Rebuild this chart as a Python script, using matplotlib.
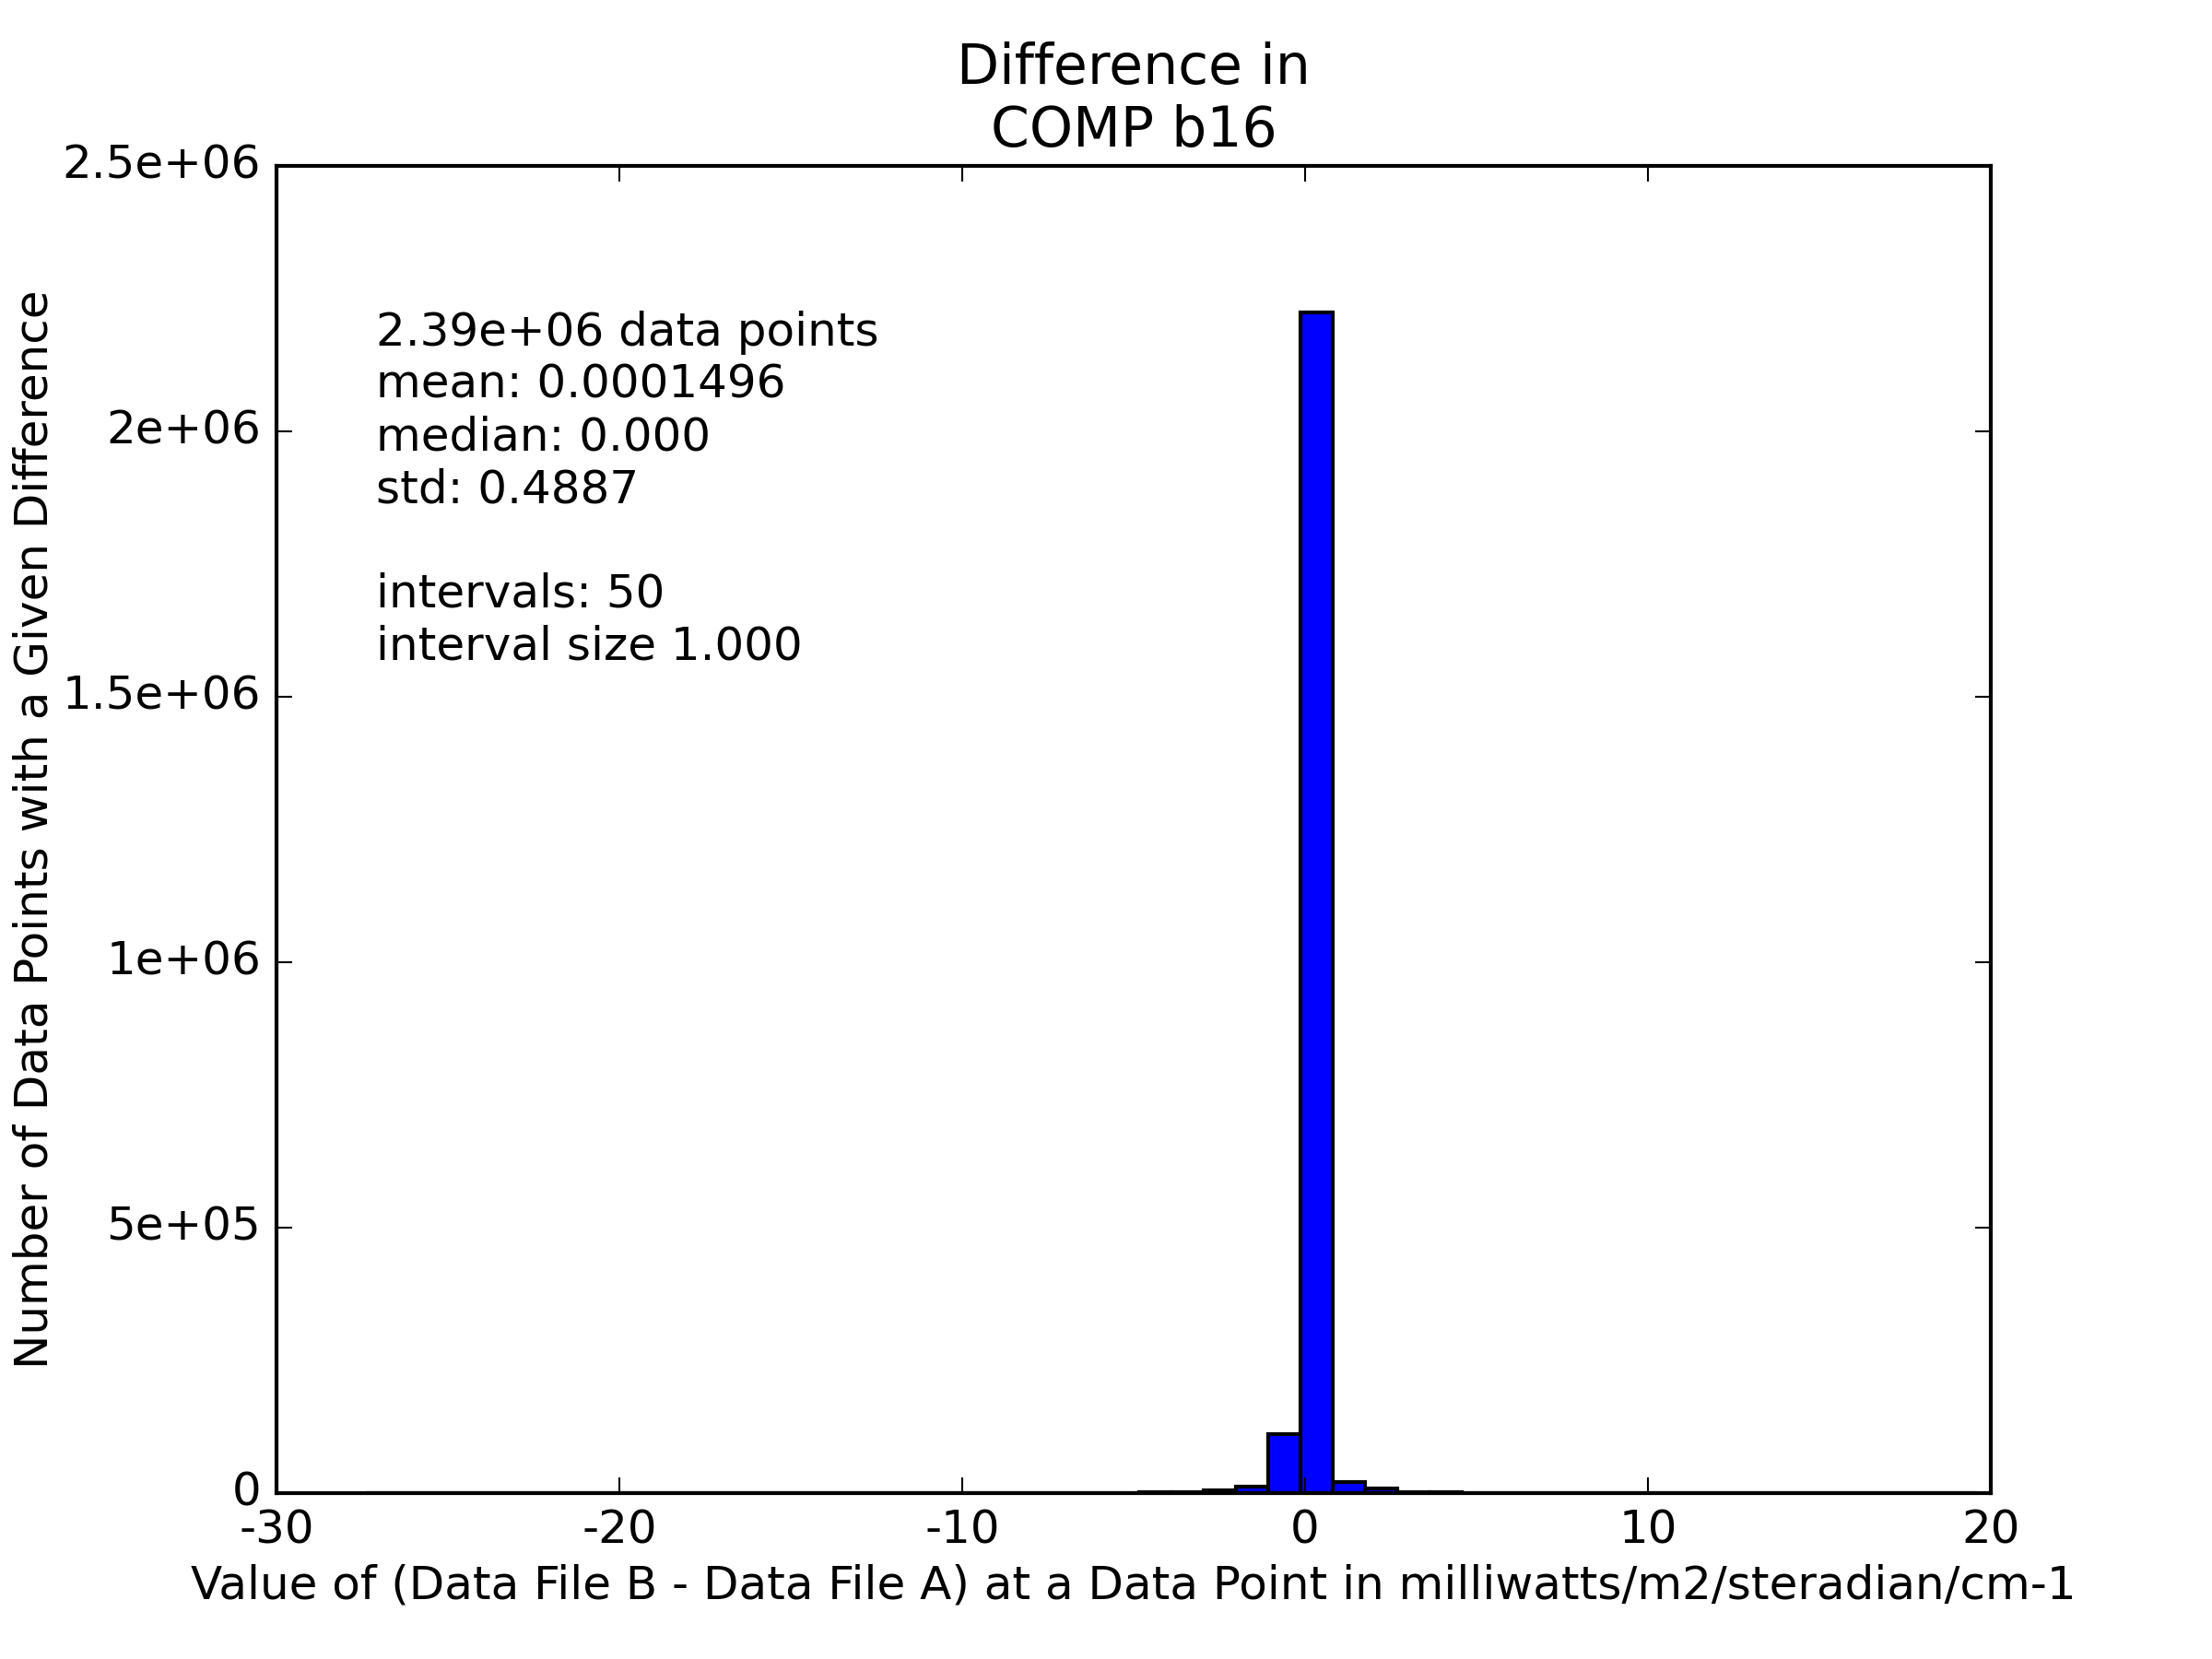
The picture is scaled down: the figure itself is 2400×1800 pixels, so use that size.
import numpy as np
import matplotlib
matplotlib.use("Agg")
import matplotlib.pyplot as plt

plt.style.use("classic")
plt.rcParams["axes.unicode_minus"] = False

# histogram: 50 bins
bin_low = -27.39
bin_high = 19.61
n_bins = 50
# non-zero counts, keyed by bin index (bin 29 starts just below 0)
counts = np.zeros(n_bins)
nonzero_bins = [24, 25, 26, 27, 28, 29, 30, 31, 32, 33, 34]
nonzero_counts = [1500, 2500, 5000, 12000, 111000, 2224000, 20800, 8000, 2500, 1500, 600]
counts[nonzero_bins] = nonzero_counts

y_ticks = [0, 5e5, 1e6, 1.5e6, 2e6, 2.5e6]
y_tick_labels = ["0", "5e+05", "1e+06", "1.5e+06", "2e+06", "2.5e+06"]
x_ticks = [-30, -20, -10, 0, 10, 20]

stats_text = ("2.39e+06 data points\nmean: 0.0001496\nmedian: 0.000\nstd: 0.4887\n\n"
              "intervals: 50\ninterval size 1.000")

edges = np.linspace(bin_low, bin_high, n_bins + 1)

fig = plt.figure(figsize=(8, 6), dpi=300)
ax = fig.add_subplot(111)
ax.bar(edges[:-1], counts, width=np.diff(edges), align="edge", color="b",
       edgecolor="k", linewidth=1.0)

ax.set_xlim(-30, 20)
ax.set_ylim(0, 2.5e6)
ax.set_xticks(x_ticks)
ax.set_yticks(y_ticks)
ax.set_yticklabels(y_tick_labels)

ax.set_title("Difference in\nCOMP b16")
ax.set_xlabel("Value of (Data File B - Data File A) at a Data Point in milliwatts/m2/steradian/cm-1",
              labelpad=2.8)
ax.set_ylabel("Number of Data Points with a Given Difference", labelpad=1.6)

ax.text(0.058, 0.891, stats_text, transform=ax.transAxes, va="top", ha="left",
        fontsize=12, linespacing=1.23)

plt.savefig("out.png", dpi=300)
